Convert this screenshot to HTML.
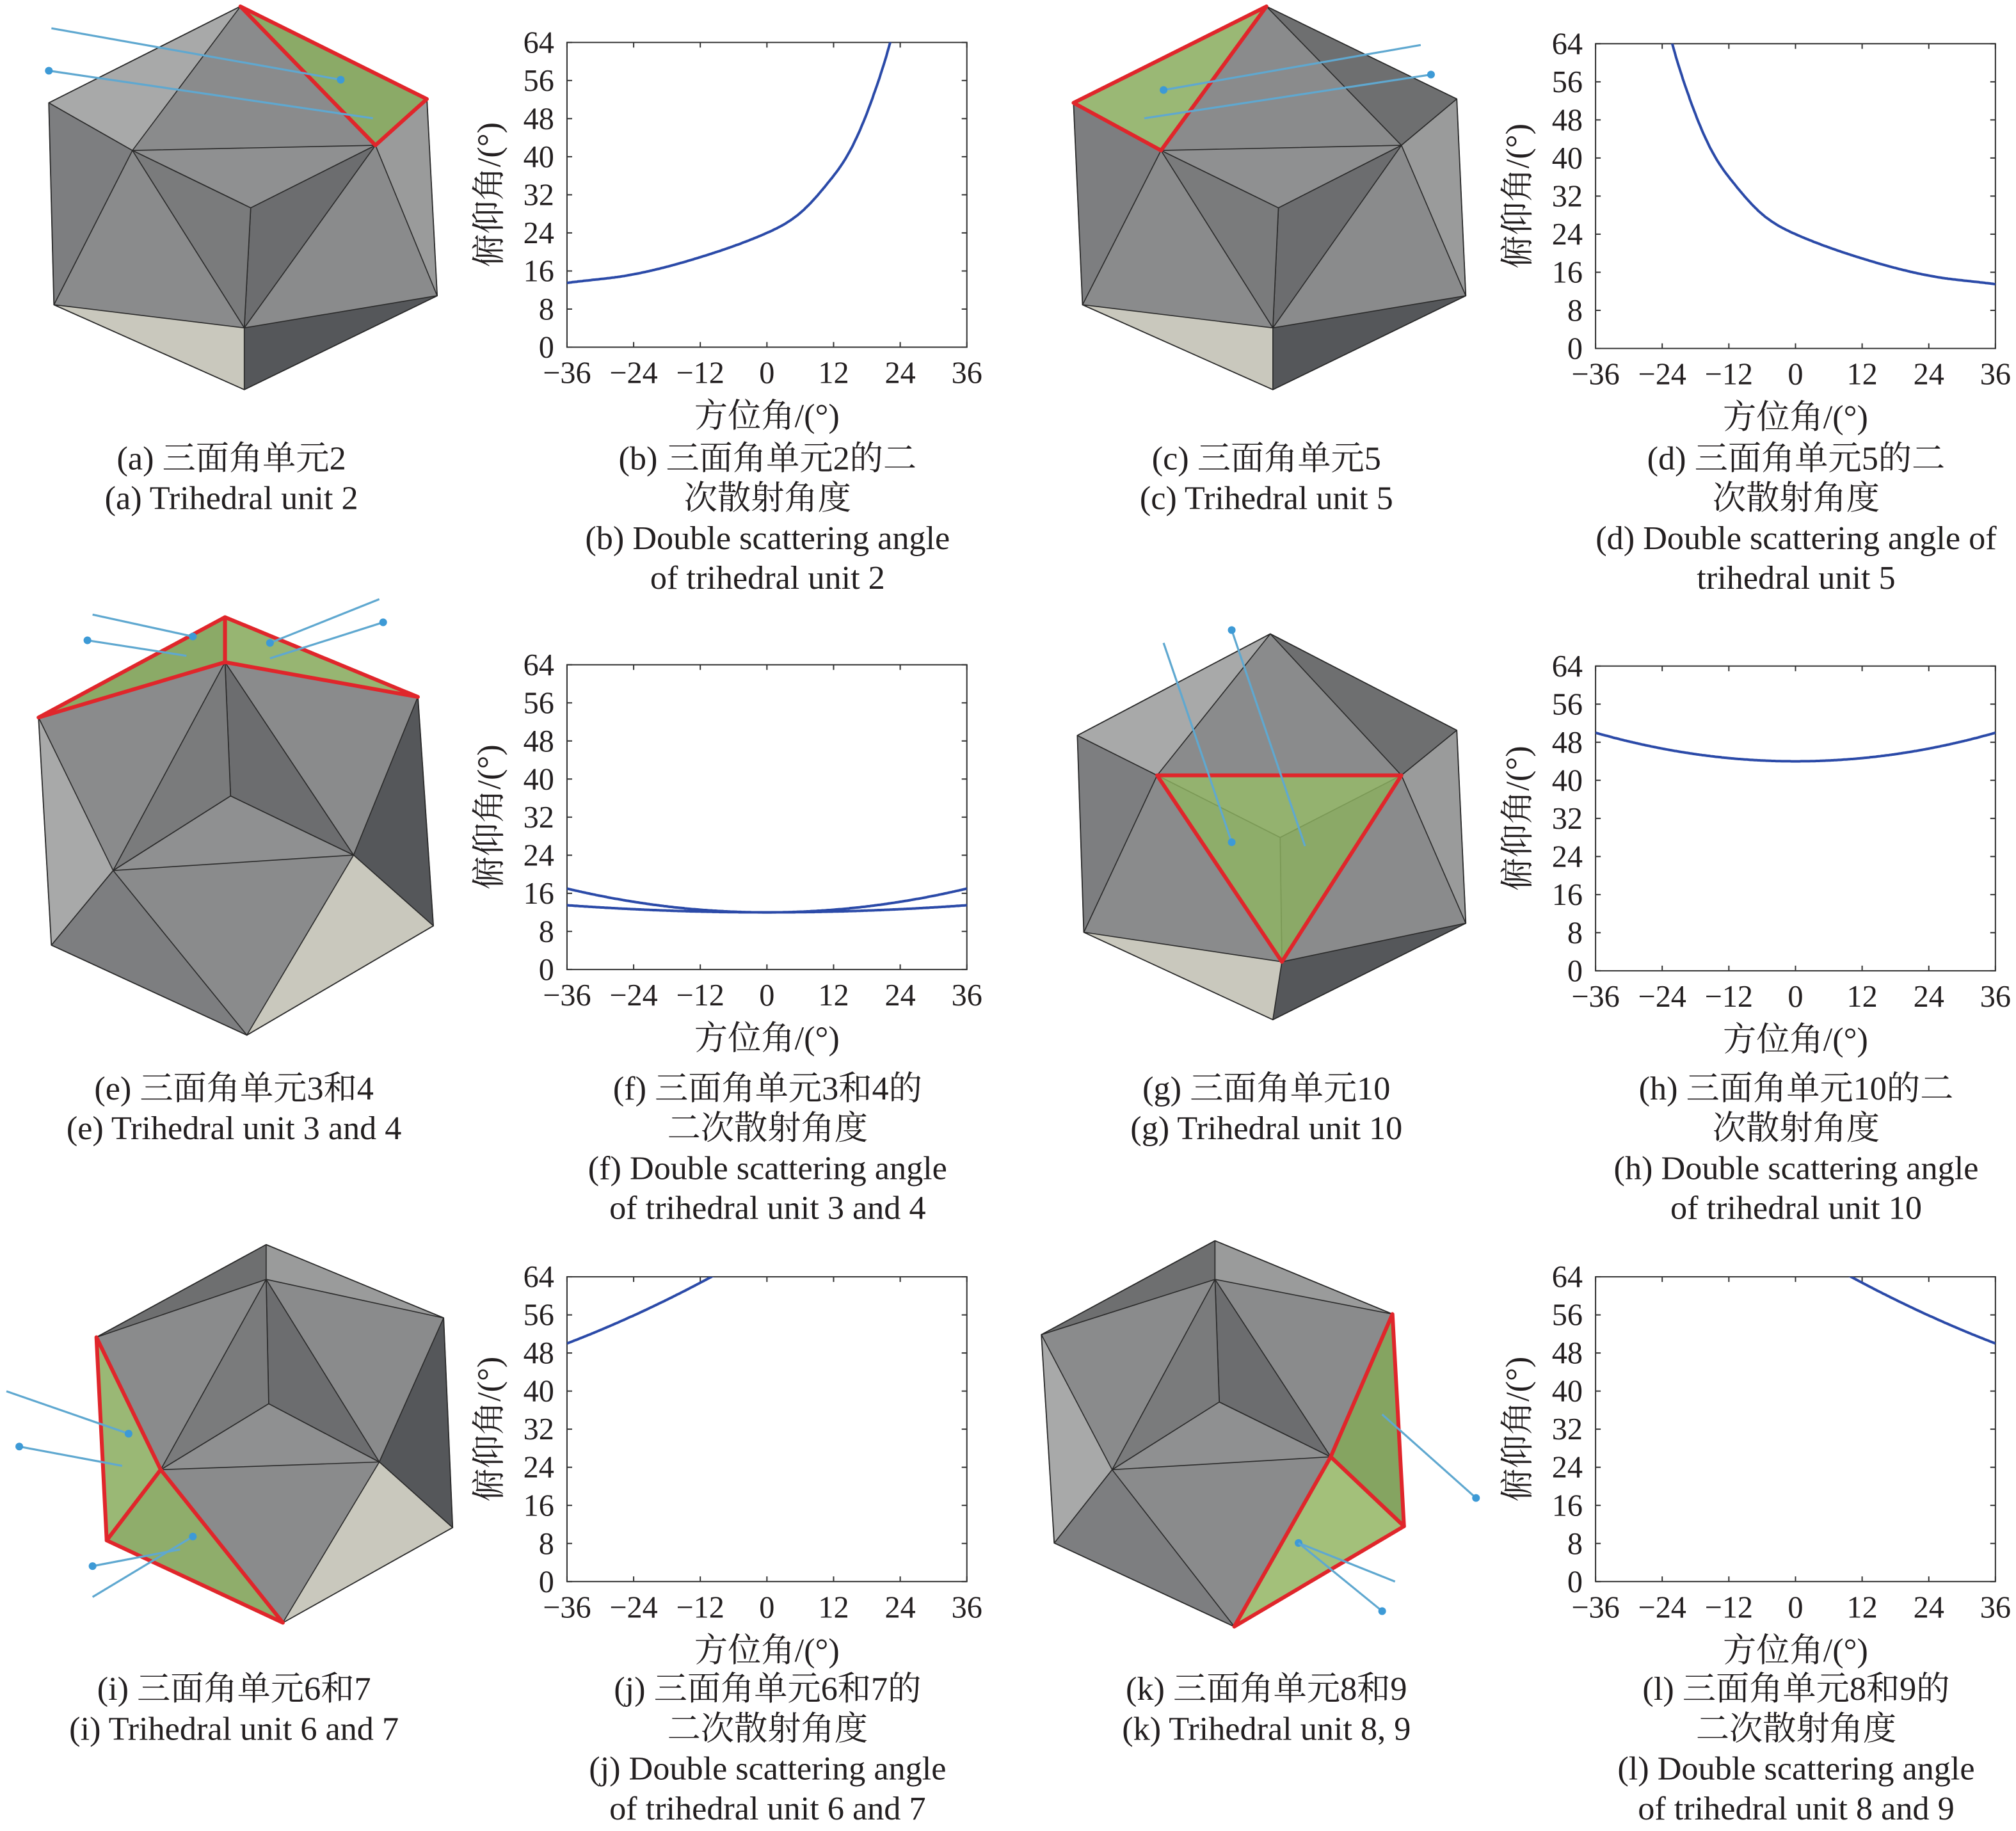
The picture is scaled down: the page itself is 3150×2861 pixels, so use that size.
<!DOCTYPE html>
<html><head><meta charset="utf-8">
<style>
html,body{margin:0;padding:0;background:#fff;}
svg{display:block;}
</style></head>
<body>
<svg id="s" width="3150" height="2861" viewBox="0 0 1568 1424" preserveAspectRatio="none" xmlns="http://www.w3.org/2000/svg">
<rect width="1568" height="1424" fill="#fff"/>
<g id="g"></g>
</svg>
<script>
const g=document.getElementById('g');let h='';
const FF="font-family=\"'Liberation Serif','Noto Serif CJK SC','Noto Sans CJK SC',serif\" fill=\"#231f20\"";
function poly(pts,fill,stroke,sw){h+=`<polygon points="${pts.map(p=>p.join(',')).join(' ')}" fill="${fill}" stroke="${stroke||'#333'}" stroke-width="${sw||1}" stroke-linejoin="round"/>`;}
function line(a,b,c,w){h+=`<line x1="${a[0]}" y1="${a[1]}" x2="${b[0]}" y2="${b[1]}" stroke="${c}" stroke-width="${w}"/>`;}
function txt(x,y,s,sz,anch,extra){h+=`<text x="${x}" y="${y}" font-size="${sz}" text-anchor="${anch||'middle'}" ${FF} ${extra||''}>${s}</text>`;}
function solid(H,T,red,arrows){
  const c=[(T[0][0]+T[1][0]+T[2][0])/3,(T[0][1]+T[1][1]+T[2][1])/3];
  const greys=['#6e6f70','#9a9b9b','#55575a','#c9c8bd','#7d7e80','#a8a9a9','#5f6163','#8c8d8e','#b5b4ab','#6a6b6d','#929394','#4f5154'];
  poly(H,'#8a8b8c');
  let k=0;
  for(let i=0;i<6;i++){const a=H[i],b=H[(i+1)%6];
    let best=T[0],bd=1e9;for(const t of T){const d=Math.hypot((a[0]+b[0])/2-t[0],(a[1]+b[1])/2-t[1]);if(d<bd){bd=d;best=t;}}
    poly([a,b,best],greys[k++%12],'#2a2a2a',0.8);}
  for(let i=0;i<3;i++)poly([T[i],T[(i+1)%3],c],['#8f9091','#6c6d6f','#7a7b7c'][i],'#2a2a2a',0.8);
  for(const r of red)poly(r,'rgba(150,190,100,0.75)','#e0262b',3);
  for(const a of arrows||[]){line(a[0],a[1],'#5fa8d0',1.6);h+=`<circle cx="${a[1][0]}" cy="${a[1][1]}" r="3" fill="#3d9ad6"/>`;}
}
function plot(x0,y0,curves){
  const W=311,Hh=237;
  h+=`<rect x="${x0}" y="${y0}" width="${W}" height="${Hh}" fill="none" stroke="#333" stroke-width="1"/>`;
  for(let i=0;i<=8;i++){const y=y0+Hh-i*Hh/8;txt(x0-10,y+8,String(i*8),24,'end');
    line([x0,y],[x0+4,y],'#333',1);line([x0+W-4,y],[x0+W,y],'#333',1);}
  for(let i=0;i<=6;i++){const v=-36+i*12;const x=x0+i*W/6;txt(x,y0+Hh+28,(v<0?'−':'')+Math.abs(v),24,'middle');
    line([x,y0+Hh],[x,y0+Hh-4],'#333',1);line([x,y0],[x,y0+4],'#333',1);}
  txt(x0+W/2,y0+Hh+62,'方位角/(°)',26,'middle');
  const ly=y0+Hh/2,lx=x0-52;
  txt(lx,ly,'俯仰角/(°)',26,'middle',`transform="rotate(-90 ${lx} ${ly})"`);
  h+=`<clipPath id="c${x0}${y0}"><rect x="${x0}" y="${y0}" width="${W}" height="${Hh}"/></clipPath>`;
  for(const f of curves){let p=[];for(let a=-36;a<=36;a+=0.25){const e=f(a);if(e===null)continue;p.push([x0+(a+36)/72*W,y0+Hh-e/64*Hh].map(v=>v.toFixed(1)).join(','));}
    h+=`<polyline points="${p.join(' ')}" fill="none" stroke="#2b4aa8" stroke-width="2" clip-path="url(#c${x0}${y0})"/>`;}
}
const P=[[-48,11.5],[-36,13.5],[-24,15.3],[-12,18.9],[0,24],[6,28.2],[12,36],[15.3,42],[18.6,51],[22.2,64],[25,78],[28,95]];
function b(a){
  for(let i=1;i<P.length-2;i++){if(a>=P[i][0]&&a<=P[i+1][0]){
    const p0=P[i-1],p1=P[i],p2=P[i+1],p3=P[i+2];const t=(a-p1[0])/(p2[0]-p1[0]);
    const dx=p2[0]-p1[0];
    const m1=(p2[1]-p0[1])/(p2[0]-p0[0])*dx, m2=(p3[1]-p1[1])/(p3[0]-p1[0])*dx;
    const t2=t*t,t3=t2*t;
    return (2*t3-3*t2+1)*p1[1]+(t3-2*t2+t)*m1+(-2*t3+3*t2)*p2[1]+(t3-t2)*m2;}}
  return a>28?100:null;}
plot(441,33,[a=>b(a)]);
plot(1241,34,[a=>b(-a)]);
plot(441,517,[a=>12+5*(a/36)**2,a=>12+1.5*(a/36)**2]);
plot(1241,518,[a=>44+6*(a/36)**2]);
plot(441,993,[a=>50+14*((a+36)/26)*(1+0.2*(a+36)/26)/1.2]);
plot(1241,993,[a=>50+14*((36-a)/26)*(1+0.2*(36-a)/26)/1.2]);
solid([[187,5],[332,77],[340,230],[190,303],[42,237],[38,80]],[[103,117],[292,113],[190,255]],[[[187,5],[332,77],[292,113]]],[[[40,22],[265,62]],[[290,92],[38,55]]]);
solid([[985,5],[1133,77],[1140,230],[990,303],[842,237],[835,80]],[[903,117],[1090,113],[990,255]],[[[835,80],[985,5],[903,117]]],[[[1105,35],[905,70]],[[890,92],[1113,58]]]);
solid([[30,558],[175,480],[325,542],[337,720],[192,805],[40,735]],[[88,677],[275,665],[175,515]],[[[30,558],[175,480],[175,515]],[[175,480],[325,542],[175,515]]],[[[72,478],[150,495]],[[145,510],[68,498]],[[295,466],[210,500]],[[210,512],[298,484]]]);
solid([[988,493],[1133,568],[1140,718],[990,793],[843,725],[838,572]],[[900,603],[1090,603],[997,748]],[[[900,603],[1090,603],[997,748]]],[[[905,500],[958,655]],[[1015,658],[958,490]]]);
solid([[75,1040],[207,968],[345,1025],[352,1188],[220,1262],[83,1198]],[[125,1143],[295,1137],[207,995]],[[[75,1040],[125,1143],[83,1198]],[[125,1143],[220,1262],[83,1198]]],[[[5,1082],[100,1115]],[[95,1140],[15,1125]],[[72,1242],[150,1195]],[[140,1205],[72,1218]]]);
solid([[810,1038],[945,965],[1083,1022],[1092,1187],[960,1265],[820,1200]],[[865,1143],[1035,1133],[945,995]],[[[1083,1022],[1092,1187],[1035,1133]],[[1035,1133],[1092,1187],[960,1265]]],[[[1075,1100],[1148,1165]],[[1085,1230],[1010,1200]],[[1010,1200],[1075,1253]]]);
const caps=[
[180,357,['(a) 三面角单元2','(a) Trihedral unit 2']],
[597,357,['(b) 三面角单元2的二','次散射角度','(b) Double scattering angle','of trihedral unit 2']],
[985,357,['(c) 三面角单元5','(c) Trihedral unit 5']],
[1397,357,['(d) 三面角单元5的二','次散射角度','(d) Double scattering angle of','trihedral unit 5']],
[182,847,['(e) 三面角单元3和4','(e) Trihedral unit 3 and 4']],
[597,847,['(f) 三面角单元3和4的','二次散射角度','(f) Double scattering angle','of trihedral unit 3 and 4']],
[985,847,['(g) 三面角单元10','(g) Trihedral unit 10']],
[1397,847,['(h) 三面角单元10的二','次散射角度','(h) Double scattering angle','of trihedral unit 10']],
[182,1314,['(i) 三面角单元6和7','(i) Trihedral unit 6 and 7']],
[597,1314,['(j) 三面角单元6和7的','二次散射角度','(j) Double scattering angle','of trihedral unit 6 and 7']],
[985,1314,['(k) 三面角单元8和9','(k) Trihedral unit 8, 9']],
[1397,1314,['(l) 三面角单元8和9的','二次散射角度','(l) Double scattering angle','of trihedral unit 8 and 9']]];
for(const [x,y,ls] of caps)ls.forEach((s,i)=>txt(x,y+8+i*31,s,26,'middle'));
g.innerHTML=h;
</script>
</body></html>
